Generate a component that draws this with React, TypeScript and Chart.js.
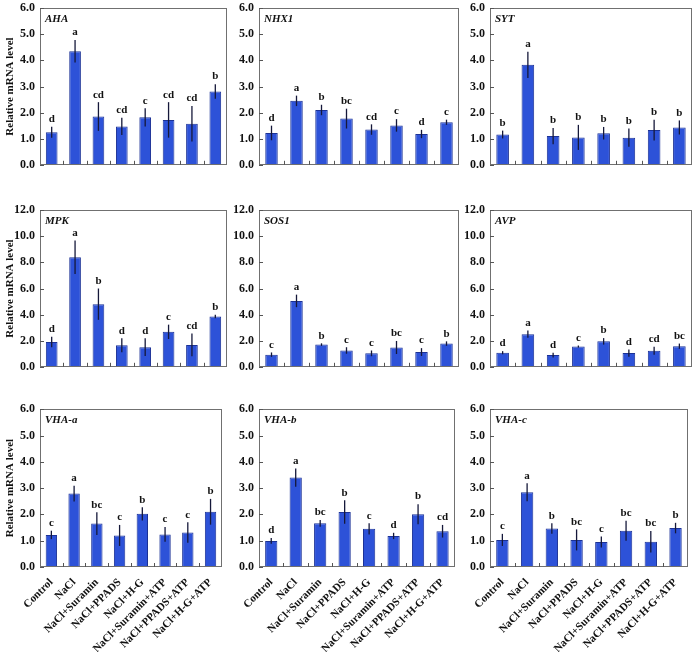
import React, { useEffect, useRef } from 'react';
import { Chart, registerables } from 'chart.js';
Chart.register(...registerables);

const categories = ['Control', 'NaCl', 'NaCl+Suramin', 'NaCl+PPADS', 'NaCl+H-G', 'NaCl+Suramin+ATP', 'NaCl+PPADS+ATP', 'NaCl+H-G+ATP'];

const ahaValues = [1.25, 4.35, 1.85, 1.47, 1.82, 1.72, 1.57, 2.81];
const ahaErrors = [0.21, 0.43, 0.55, 0.33, 0.35, 0.68, 0.68, 0.28];
const ahaLetters = ['d', 'a', 'cd', 'cd', 'c', 'cd', 'cd', 'b'];

const nhx1Values = [1.22, 2.45, 2.1, 1.77, 1.35, 1.51, 1.18, 1.63];
const nhx1Errors = [0.28, 0.2, 0.2, 0.38, 0.2, 0.24, 0.16, 0.1];
const nhx1Letters = ['d', 'a', 'b', 'bc', 'cd', 'c', 'd', 'c'];

const sytValues = [1.16, 3.83, 1.1, 1.05, 1.21, 1.04, 1.33, 1.43];
const sytErrors = [0.15, 0.5, 0.31, 0.48, 0.24, 0.35, 0.4, 0.27];
const sytLetters = ['b', 'a', 'b', 'b', 'b', 'b', 'b', 'b'];

const mpkValues = [1.9, 8.4, 4.8, 1.65, 1.5, 2.68, 1.68, 3.85];
const mpkErrors = [0.4, 1.28, 1.2, 0.53, 0.68, 0.55, 0.87, 0.13];
const mpkLetters = ['d', 'a', 'b', 'd', 'd', 'c', 'cd', 'b'];

const sos1Values = [0.93, 5.05, 1.7, 1.25, 1.03, 1.48, 1.13, 1.78];
const sos1Errors = [0.17, 0.48, 0.1, 0.25, 0.22, 0.5, 0.3, 0.17];
const sos1Letters = ['c', 'a', 'b', 'c', 'c', 'bc', 'c', 'b'];

const avpValues = [1.08, 2.5, 0.9, 1.55, 1.95, 1.05, 1.23, 1.58];
const avpErrors = [0.12, 0.28, 0.18, 0.08, 0.25, 0.28, 0.3, 0.2];
const avpLetters = ['d', 'a', 'd', 'c', 'b', 'd', 'cd', 'bc'];

const vhaAValues = [1.22, 2.79, 1.65, 1.2, 2.02, 1.24, 1.31, 2.1];
const vhaAErrors = [0.16, 0.3, 0.43, 0.4, 0.25, 0.28, 0.39, 0.49];
const vhaALetters = ['c', 'a', 'bc', 'c', 'b', 'c', 'c', 'b'];

const vhaBValues = [0.99, 3.4, 1.66, 2.09, 1.45, 1.18, 2.01, 1.36];
const vhaBErrors = [0.11, 0.35, 0.13, 0.45, 0.21, 0.12, 0.38, 0.24];
const vhaBLetters = ['d', 'a', 'bc', 'b', 'c', 'd', 'b', 'cd'];

const vhaCValues = [1.03, 2.84, 1.46, 1.03, 0.95, 1.38, 0.96, 1.48];
const vhaCErrors = [0.23, 0.34, 0.2, 0.4, 0.21, 0.38, 0.41, 0.2];
const vhaCLetters = ['c', 'a', 'b', 'bc', 'c', 'bc', 'bc', 'b'];

const yTitle = 'Relative mRNA level';
const SERIF = "'Liberation Serif', 'Times New Roman', serif";

type PanelSpec = {
  gene: string;
  values: number[];
  errors: number[];
  letters: string[];
  yMax: number;
  yStep: number;
  left: number;
  top: number;
  width: number;
  height: number;
  axisWidth: number;
  showTitle: boolean;
  showX: boolean;
};

const cols = [
  { left: 0, axisWidth: 40, width: 229 },
  { left: 229, axisWidth: 30, width: 232 },
  { left: 460, axisWidth: 30, width: 234 },
];
const rows = [
  { top: -4, height: 181, yMax: 6, yStep: 1, showX: false },
  { top: 198, height: 181, yMax: 12, yStep: 2, showX: false },
  { top: 397, height: 255, yMax: 6, yStep: 1, showX: true },
];

const geneData = [
  ['AHA', ahaValues, ahaErrors, ahaLetters],
  ['NHX1', nhx1Values, nhx1Errors, nhx1Letters],
  ['SYT', sytValues, sytErrors, sytLetters],
  ['MPK', mpkValues, mpkErrors, mpkLetters],
  ['SOS1', sos1Values, sos1Errors, sos1Letters],
  ['AVP', avpValues, avpErrors, avpLetters],
  ['VHA-a', vhaAValues, vhaAErrors, vhaALetters],
  ['VHA-b', vhaBValues, vhaBErrors, vhaBLetters],
  ['VHA-c', vhaCValues, vhaCErrors, vhaCLetters],
] as const;

const panels: PanelSpec[] = geneData.map((g, i) => {
  const r = rows[Math.floor(i / 3)];
  const c = cols[i % 3];
  return {
    gene: g[0] as string,
    values: g[1] as unknown as number[],
    errors: g[2] as unknown as number[],
    letters: g[3] as unknown as string[],
    yMax: r.yMax,
    yStep: r.yStep,
    left: c.left,
    top: r.top,
    width: c.width,
    height: r.height,
    axisWidth: c.axisWidth,
    showTitle: i % 3 === 0,
    showX: r.showX,
  };
});

function Panel({ spec }: { spec: PanelSpec }) {
  const ref = useRef<HTMLCanvasElement>(null);
  useEffect(() => {
    if (!ref.current) return;
    const deco = {
      id: 'deco',
      afterDatasetsDraw(chart: any) {
        const ctx = chart.ctx as CanvasRenderingContext2D;
        const { left, right, top, bottom } = chart.chartArea;
        const ys = chart.scales.y;
        const meta = chart.getDatasetMeta(0);
        ctx.save();
        // error bars and letters
        ctx.strokeStyle = '#15183a';
        ctx.lineWidth = 1.3;
        ctx.fillStyle = '#111';
        ctx.font = `bold 11px ${SERIF}`;
        ctx.textAlign = 'center';
        ctx.textBaseline = 'bottom';
        meta.data.forEach((bar: any, i: number) => {
          const v = spec.values[i];
          const e = spec.errors[i];
          const y1 = ys.getPixelForValue(v + e);
          const y2 = ys.getPixelForValue(v - e);
          ctx.beginPath();
          ctx.moveTo(bar.x, y1);
          ctx.lineTo(bar.x, y2);
          ctx.stroke();
          ctx.fillText(spec.letters[i], bar.x, y1 - 2);
        });
        // frame
        ctx.strokeStyle = '#707070';
        ctx.lineWidth = 1;
        ctx.strokeRect(Math.round(left) + 0.5, Math.round(top) + 0.5, Math.round(right - left) - 1, Math.round(bottom - top) - 1);
        // inward y ticks
        ctx.strokeStyle = '#555';
        ys.ticks.forEach((t: any) => {
          const y = Math.round(ys.getPixelForValue(t.value)) + 0.5;
          ctx.beginPath();
          ctx.moveTo(left, y);
          ctx.lineTo(left + 4, y);
          ctx.stroke();
        });
        // inward x ticks between categories
        for (let i = 1; i < meta.data.length; i++) {
          const x = Math.round((meta.data[i - 1].x + meta.data[i].x) / 2) + 0.5;
          ctx.beginPath();
          ctx.moveTo(x, bottom);
          ctx.lineTo(x, bottom - 4);
          ctx.stroke();
        }
        // gene name
        ctx.fillStyle = '#111';
        ctx.font = `italic bold 11px ${SERIF}`;
        ctx.textAlign = 'left';
        ctx.textBaseline = 'middle';
        ctx.fillText(spec.gene, left + 5, top + 11);
        ctx.restore();
      },
    };
    const chart = new Chart(ref.current, {
      type: 'bar',
      data: {
        labels: categories,
        datasets: [
          {
            data: spec.values,
            backgroundColor: '#2d52d8',
            borderColor: '#1c3296',
            borderWidth: 1,
            barPercentage: 0.5,
            categoryPercentage: 1,
          },
        ],
      },
      options: {
        responsive: false,
        animation: false,
        events: [],
        layout: { padding: { top: 10, bottom: spec.showX ? 0 : 10, left: 0, right: 2 } },
        plugins: { legend: { display: false }, tooltip: { enabled: false } },
        scales: {
          x: {
            type: 'category',
            offset: true,
            grid: { display: false, drawTicks: false },
            border: { display: false },
            ticks: {
              display: spec.showX,
              autoSkip: false,
              maxRotation: 45,
              minRotation: 45,
              padding: 9,
              color: '#111',
              font: { family: SERIF, weight: 'bold', size: 11 },
            },
            afterFit: (s: any) => {
              s.height = spec.showX ? 85 : 0;
            },
          },
          y: {
            min: 0,
            max: spec.yMax,
            grid: { display: false, drawTicks: false },
            border: { display: false },
            ticks: {
              stepSize: spec.yStep,
              padding: 5,
              color: '#111',
              font: { family: SERIF, weight: 'bold', size: 12 },
              callback: (v: any) => Number(v).toFixed(1),
            },
            title: {
              display: spec.showTitle,
              text: yTitle,
              color: '#111',
              font: { family: SERIF, weight: 'bold', size: 11 },
              padding: { top: 4, bottom: 0 },
            },
            afterFit: (s: any) => {
              s.width = spec.axisWidth;
            },
          },
        },
      },
      plugins: [deco],
    } as any);
    return () => chart.destroy();
  }, [spec]);
  return (
    <canvas
      ref={ref}
      width={spec.width}
      height={spec.height}
      style={{ position: 'absolute', left: spec.left, top: spec.top, width: spec.width, height: spec.height }}
    />
  );
}

export default function App() {
  return (
    <div style={{ position: 'absolute', left: 0, top: 0, width: 697, height: 652, background: '#fff', overflow: 'hidden' }}>
      {panels.map((p) => (
        <Panel key={p.gene} spec={p} />
      ))}
    </div>
  );
}
